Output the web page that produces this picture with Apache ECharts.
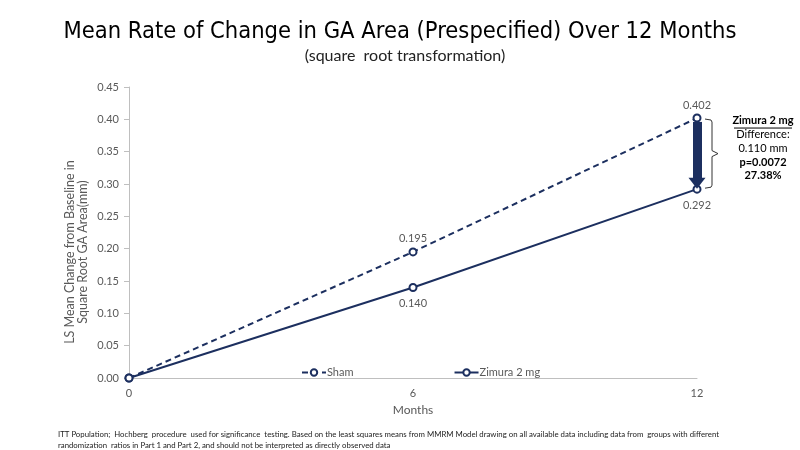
<!DOCTYPE html>
<html><head><meta charset="utf-8">
<script src="https://cdn.jsdelivr.net/npm/echarts@6/dist/echarts.min.js"></script>
<style>html,body{margin:0;padding:0;background:#fff}#c{width:800px;height:450px}</style>
</head><body><div id="c"></div>
<script>
const months = [0, 6, 12];
const shamValues = [0, 0.195, 0.402];
const zimuraValues = [0, 0.140, 0.292];
const seriesNames = ['Sham', 'Zimura 2 mg'];
const annotationLines = ['Zimura 2 mg', 'Difference:', '0.110 mm', 'p=0.0072', '27.38%'];
const navy = '#1c2f5f';
const gray = '#595959';
const font = 'Lato';

const chart = echarts.init(document.getElementById('c'));
function pts(vals){ return months.map((m,i)=>[m, vals[i]]); }
const option = {
  animation: false,
  title: [{
    text: 'Mean Rate of Change in GA Area (Prespecified) Over 12 Months',
    left: 'center', top: 15,
    textStyle: {fontFamily: 'DejaVu Sans Condensed', fontWeight: 'normal', fontSize: 23.5, color: '#000'}
  },{
    text: '(square  root transformation)',
    left: 400, textAlign: 'center', top: 43,
    textStyle: {fontFamily: font, fontWeight: 'normal', fontSize: 16, color: '#222'}
  },{
    text: 'ITT Population;  Hochberg  procedure  used for significance  testing. Based on the least squares means from MMRM Model drawing on all available data including data from  groups with different\nrandomization  ratios in Part 1 and Part 2, and should not be interpreted as directly observed data',
    left: 53, top: 424,
    textStyle: {fontFamily: font, fontWeight: 'normal', fontSize: 7.8, lineHeight: 11, color: '#222'}
  }],
  grid: {left: 129, right: 103, top: 87, bottom: 72},
  legend: {
    left: 296, top: 362, itemGap: 100, itemWidth: 24, itemHeight: 8,
    data: seriesNames,
    textStyle: {fontFamily: font, fontSize: 11, color: gray, padding: [0,0,0,-4]}
  },
  xAxis: {
    type: 'value', min: 0, max: 12, interval: 6,
    name: 'Months', nameLocation: 'middle', nameGap: 24,
    nameTextStyle: {fontFamily: font, fontSize: 12, color: gray},
    axisLine: {lineStyle: {color: '#bfbfbf'}},
    axisTick: {show: false},
    axisLabel: {fontFamily: font, fontSize: 11, color: gray, margin: 10},
    splitLine: {show: false}
  },
  yAxis: {
    type: 'value', min: 0, max: 0.45, interval: 0.05,
    axisLine: {show: true, lineStyle: {color: '#bfbfbf'}},
    axisTick: {show: true, inside: false, length: 5, lineStyle: {color: '#bfbfbf'}},
    axisLabel: {fontFamily: font, fontSize: 11, color: gray, margin: 10, formatter: v => v.toFixed(2)},
    splitLine: {show: false}
  },
  series: [{
    name: seriesNames[0], type: 'line', data: pts(shamValues),
    symbol: 'emptyCircle', symbolSize: 7,
    lineStyle: {color: navy, width: 2, type: [6,4]},
    itemStyle: {color: navy, borderWidth: 2},
    label: {show: true, position: 'top', distance: 3, fontFamily: font, fontSize: 11, color: gray,
      formatter: p => p.data[0] === 0 ? '' : p.data[1].toFixed(3)}
  },{
    name: seriesNames[1], type: 'line', data: pts(zimuraValues),
    symbol: 'emptyCircle', symbolSize: 7, z: 3,
    lineStyle: {color: navy, width: 2},
    itemStyle: {color: navy, borderWidth: 2},
    label: {show: true, position: 'bottom', distance: 6, fontFamily: font, fontSize: 11, color: gray,
      formatter: p => p.data[0] === 0 ? '' : p.data[1].toFixed(3)},
    markLine: {
      silent: true, symbol: ['none', 'none'],
      label: {show: false},
      lineStyle: {color: navy, width: 9, type: 'solid', cap: 'butt'},
      data: [[{coord: [months[2], shamValues[2] - 0.006]}, {coord: [months[2], zimuraValues[2] + 0.016]}]]
    },
    markPoint: {
      silent: true, symbol: 'triangle', symbolRotate: 180, symbolSize: [17, 11],
      itemStyle: {color: navy},
      label: {show: false},
      data: [{coord: [months[2], zimuraValues[2] + 0.009]}]
    }
  }]
};
chart.setOption(option);

// axis title, bracket and annotation placed relative to the plot
const pTop = chart.convertToPixel({xAxisIndex:0, yAxisIndex:0}, [months[2], shamValues[2]]);
const pBot = chart.convertToPixel({xAxisIndex:0, yAxisIndex:0}, [months[2], zimuraValues[2]]);
const bx = pTop[0] + 15;
const mid = (pTop[1] + pBot[1]) / 2;
chart.setOption({graphic: [{
  type: 'text', silent: true, x: 76, y: 252, rotation: Math.PI / 2,
  style: {
    text: 'LS Mean Change from Baseline in\nSquare Root GA Area(mm)',
    align: 'center', verticalAlign: 'middle', fontFamily: font, fontSize: 12.5, lineHeight: 13, fill: gray
  }
},{
  type: 'polyline', silent: true,
  shape: {points: [[bx-7, pTop[1]+1],[bx-1, pTop[1]+2],[bx, pTop[1]+4],[bx, mid-3],[bx+6, mid],[bx, mid+3],[bx, pBot[1]-4],[bx-1, pBot[1]-2],[bx-7, pBot[1]-1]]},
  style: {stroke: '#333', lineWidth: 1, fill: null}
},{
  type: 'text', silent: true, x: pTop[0] + 66, y: pTop[1] - 4,
  style: {
    text: '{u|' + annotationLines[0] + '}\n{n|' + annotationLines[1] + '}\n{n|' + annotationLines[2] + '}\n{b|' + annotationLines[3] + '}\n{b|' + annotationLines[4] + '}',
    align: 'center', fontFamily: font, fontSize: 11, lineHeight: 13.7, fill: '#000',
    rich: {
      u: {fontFamily: font, fontSize: 11, fontWeight: 'bold', fill: '#000', lineHeight: 13.7},
      n: {fontFamily: font, fontSize: 11, fill: '#000', lineHeight: 13.7},
      b: {fontFamily: font, fontSize: 11, fontWeight: 'bold', fill: '#000', lineHeight: 13.7}
    }
  }
},{
  type: 'line', silent: true,
  shape: {x1: pTop[0]+37, y1: pTop[1]+10, x2: pTop[0]+95, y2: pTop[1]+10},
  style: {stroke: '#000', lineWidth: 1}
}]});
</script></body></html>
